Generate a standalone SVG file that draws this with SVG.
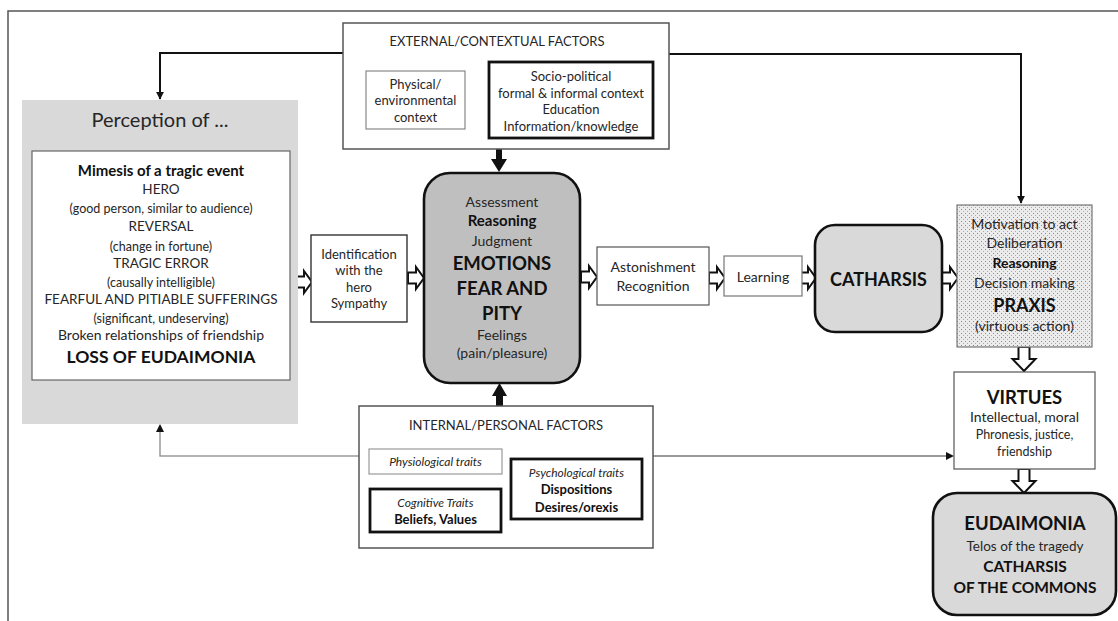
<svg xmlns="http://www.w3.org/2000/svg" width="1118" height="621" viewBox="0 0 1118 621">
<style>
text{font-family:Lato,"Liberation Sans",sans-serif;fill:#262626;text-anchor:middle}
.b{font-weight:bold;fill:#111}
.i{font-style:italic}
.thin{fill:#fff;stroke:#666;stroke-width:1.2}
.thick{fill:#fff;stroke:#111;stroke-width:2.8}
.conn{fill:none;stroke:#111;stroke-width:2}
.gconn{fill:none;stroke:#9a9a9a;stroke-width:1.5}
.ha{fill:#fff;stroke:#111;stroke-width:2;stroke-linejoin:miter}
.blk{fill:#111}
</style>
<defs>
<marker id="ah" viewBox="0 0 10 10" refX="9" refY="5" markerWidth="4" markerHeight="4" orient="auto" markerUnits="strokeWidth"><path d="M0,0 L10,5 L0,10 Z" fill="#111"/></marker>
<path id="har" d="M0,-5.5 H8 V-11 L16,0 L8,11 V5.5 H0 Z"/>
<path id="had" d="M-5.5,0 V12 H-11.5 L0,24 L11.5,12 H5.5 V0 Z"/>
<pattern id="dots" width="4" height="4" patternUnits="userSpaceOnUse"><rect width="4" height="4" fill="#ececec"/><rect x="1" y="1" width="1" height="1" fill="#8a8a8a"/><rect x="3" y="3" width="1" height="1" fill="#a8a8a8"/></pattern>
</defs>
<rect width="1118" height="621" fill="#fff"/>
<path d="M8,621 V11 H1118" fill="none" stroke="#555" stroke-width="1.5"/>

<g id="connectors">
<path class="conn" d="M343,53 H160 V99" marker-end="url(#ah)"/>
<path class="conn" d="M669,54 H1021 V203" marker-end="url(#ah)"/>
<path class="gconn" d="M359,456 H160 V427"/>
<path d="M156,432 L160,424 L164,432 Z" fill="#111"/>
<path class="gconn" d="M653,456 H948" style="stroke:#777"/>
<path d="M946,452 L954,456 L946,460 Z" fill="#111"/>
<path class="blk" d="M496,149 H502 V159 H507 L499,172 L491,159 H496 Z"/>
<path class="blk" d="M496,406 H503 V396 H507 L499.5,383 L492,396 H496 Z"/>
<use href="#har" class="ha" x="296" y="282"/>
<use href="#har" class="ha" x="408" y="278"/>
<use href="#har" class="ha" x="581" y="277"/>
<use href="#har" class="ha" x="709" y="278"/>
<use href="#har" class="ha" x="800" y="278"/>
<use href="#har" class="ha" x="942" y="278"/>
<use href="#had" class="ha" x="1024" y="347"/>
<use href="#had" class="ha" x="1024" y="469"/>
</g>

<g id="external">
<rect x="343" y="23" width="326" height="126" fill="#fff" stroke="#555" stroke-width="1.5"/>
<text x="497" y="46" font-size="13">EXTERNAL/CONTEXTUAL  FACTORS</text>
<rect x="366" y="71" width="99" height="58" fill="#fff" stroke="#888" stroke-width="1.2"/>
<text x="415.5" y="88.5" font-size="13">Physical/</text>
<text x="415.5" y="105" font-size="13">environmental</text>
<text x="415.5" y="121.5" font-size="13">context</text>
<rect x="489" y="62" width="164" height="76" class="thick"/>
<text x="571" y="81" font-size="13">Socio-political</text>
<text x="571" y="97.5" font-size="13">formal &amp; informal context</text>
<text x="571" y="114" font-size="13">Education</text>
<text x="571" y="130.5" font-size="13">Information/knowledge</text>
</g>

<g id="perception">
<rect x="22" y="100" width="276" height="324" fill="#d9d9d9"/>
<text x="160" y="127" font-size="20">Perception of ...</text>
<rect x="32" y="151" width="258" height="229" class="thin"/>
<text x="161" y="176" font-size="15" class="b">Mimesis of a tragic event</text>
<text x="161" y="194" font-size="13.5">HERO</text>
<text x="161" y="213" font-size="12.5">(good person, similar to audience)</text>
<text x="161" y="231" font-size="13.5">REVERSAL</text>
<text x="161" y="251" font-size="12.5">(change in fortune)</text>
<text x="161" y="268" font-size="13.5">TRAGIC ERROR</text>
<text x="161" y="287" font-size="12.5">(causally intelligible)</text>
<text x="161" y="304" font-size="13.5">FEARFUL AND PITIABLE SUFFERINGS</text>
<text x="161" y="323" font-size="12.5">(significant, undeserving)</text>
<text x="161" y="340" font-size="14">Broken relationships of friendship</text>
<text x="161" y="363" font-size="17.5" class="b">LOSS OF EUDAIMONIA</text>
</g>

<g id="identification">
<rect x="311" y="235" width="96" height="87" fill="#fff" stroke="#333" stroke-width="1.4"/>
<text x="359" y="258.5" font-size="13">Identification</text>
<text x="359" y="275" font-size="13">with the</text>
<text x="359" y="291.5" font-size="13">hero</text>
<text x="359" y="308" font-size="13">Sympathy</text>
</g>

<g id="emotions">
<rect x="424" y="173" width="156" height="210" rx="26" fill="#bfbfbf" stroke="#111" stroke-width="2.6"/>
<text x="502" y="207" font-size="14">Assessment</text>
<text x="502" y="226" font-size="15" class="b">Reasoning</text>
<text x="502" y="246" font-size="14">Judgment</text>
<text x="502" y="269.5" font-size="18.5" class="b">EMOTIONS</text>
<text x="502" y="294.5" font-size="18.5" class="b">FEAR AND</text>
<text x="502" y="319.5" font-size="18.5" class="b">PITY</text>
<text x="502" y="340" font-size="14">Feelings</text>
<text x="502" y="358" font-size="14">(pain/pleasure)</text>
</g>

<g id="astonishment">
<rect x="597" y="247" width="112" height="58" fill="#fff" stroke="#555" stroke-width="1.2"/>
<text x="653" y="272" font-size="14">Astonishment</text>
<text x="653" y="291" font-size="14">Recognition</text>
</g>

<g id="learning">
<rect x="724" y="256" width="78" height="40" fill="#fff" stroke="#777" stroke-width="1.2"/>
<text x="763" y="282" font-size="14">Learning</text>
</g>

<g id="catharsis">
<rect x="815" y="225" width="127" height="107" rx="20" fill="#d9d9d9" stroke="#111" stroke-width="2.6"/>
<text x="878.5" y="285.5" font-size="18" class="b">CATHARSIS</text>
</g>

<g id="praxis">
<rect x="957" y="205" width="135" height="142" fill="url(#dots)" stroke="#777" stroke-width="1.2"/>
<text x="1024.5" y="229" font-size="14">Motivation to act</text>
<text x="1024.5" y="248" font-size="14">Deliberation</text>
<text x="1024.5" y="268" font-size="14" class="b">Reasoning</text>
<text x="1024.5" y="288" font-size="14">Decision making</text>
<text x="1024.5" y="311.5" font-size="18" class="b">PRAXIS</text>
<text x="1024.5" y="331" font-size="14">(virtuous action)</text>
</g>

<g id="virtues">
<rect x="954" y="372" width="141" height="97" fill="#fff" stroke="#555" stroke-width="1.2"/>
<text x="1024.5" y="403.5" font-size="18.5" class="b">VIRTUES</text>
<text x="1024.5" y="422" font-size="14">Intellectual, moral</text>
<text x="1024.5" y="438.5" font-size="12.5">Phronesis, justice,</text>
<text x="1024.5" y="455.5" font-size="12.5">friendship</text>
</g>

<g id="eudaimonia">
<rect x="933" y="493" width="183" height="122" rx="24" fill="#d9d9d9" stroke="#111" stroke-width="2.6"/>
<text x="1025" y="529.5" font-size="18.5" class="b">EUDAIMONIA</text>
<text x="1025" y="551" font-size="13.5">Telos of the tragedy</text>
<text x="1025" y="571.5" font-size="15.5" class="b">CATHARSIS</text>
<text x="1025" y="592.5" font-size="15.5" class="b">OF THE COMMONS</text>
</g>

<g id="internal">
<rect x="359" y="406" width="294" height="142" fill="#fff" stroke="#555" stroke-width="1.5"/>
<text x="506" y="429.5" font-size="13">INTERNAL/PERSONAL  FACTORS</text>
<rect x="369" y="449" width="133" height="25" fill="#fff" stroke="#999" stroke-width="1.2"/>
<text x="435.5" y="466" font-size="12" class="i">Physiological traits</text>
<rect x="370" y="489" width="131" height="43" class="thick"/>
<text x="435.5" y="507" font-size="12" class="i">Cognitive Traits</text>
<text x="435.5" y="523.5" font-size="13" class="b">Beliefs, Values</text>
<rect x="511" y="459" width="131" height="60" class="thick"/>
<text x="576.5" y="477" font-size="12" class="i">Psychological traits</text>
<text x="576.5" y="493.5" font-size="13" class="b">Dispositions</text>
<text x="576.5" y="511.5" font-size="13" class="b">Desires/orexis</text>
</g>
</svg>
